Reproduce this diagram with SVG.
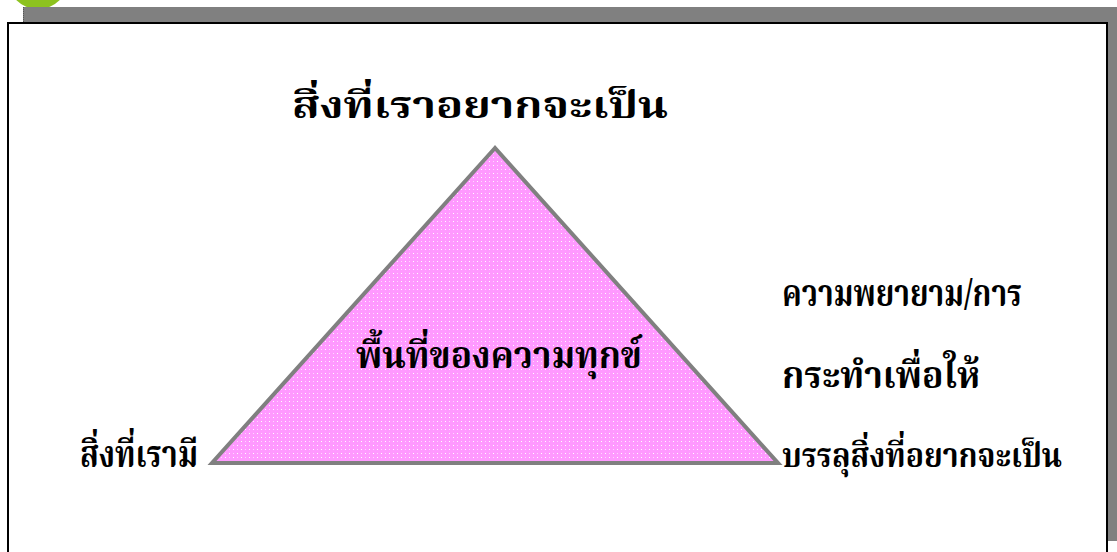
<svg xmlns="http://www.w3.org/2000/svg" width="1117" height="552" viewBox="0 0 1117 552">
<style>
.t{font-family:"Noto Serif Thai","Noto Sans Thai","Loma","Garuda","Liberation Serif",serif;font-weight:bold;font-size:37px;fill:#000}
.s{font-size:34px}
</style>
<defs>
<pattern id="dots" width="8" height="8" patternUnits="userSpaceOnUse">
<rect width="8" height="8" fill="#ff99ff"/>
<rect x="1" y="1" width="1" height="1" fill="#ffffff"/>
<rect x="5" y="5" width="1" height="1" fill="#ffffff"/>
<rect x="1" y="5" width="1" height="1" fill="#ffd6ff"/>
<rect x="5" y="1" width="1" height="1" fill="#ffd6ff"/>
</pattern>
</defs>
<rect width="1117" height="552" fill="#fff"/>
<circle cx="38" cy="-22" r="31" fill="#8dc21f"/>
<rect x="23" y="7" width="1094" height="15" fill="#808080"/>
<rect x="1108" y="7" width="9" height="534" fill="#808080"/>
<line x1="23.5" y1="7" x2="23.5" y2="22" stroke="#555" stroke-dasharray="1,1"/>
<rect x="8" y="23" width="1099" height="540" fill="#fff" stroke="#000" stroke-width="2"/>
<g id="triangle">
<polygon points="495,148 212,463 778,463" fill="url(#dots)" stroke="#808080" stroke-width="4" stroke-linejoin="miter"/>
</g>
<g id="top-label"><text class="t" x="292" y="118" textLength="376" lengthAdjust="spacingAndGlyphs">สิ่งที่เราอยากจะเป็น</text></g>
<g id="center-label"><text class="t" x="356" y="368" textLength="286" lengthAdjust="spacingAndGlyphs">พื้นที่ของความทุกข์</text></g>
<g id="left-label"><text class="t" x="80" y="467" textLength="118" lengthAdjust="spacingAndGlyphs">สิ่งที่เรามี</text></g>
<g id="right-label">
<text class="t" x="782" y="306" textLength="240" lengthAdjust="spacingAndGlyphs">ความพยายาม/การ</text>
<text class="t" x="782" y="388" textLength="198" lengthAdjust="spacingAndGlyphs">กระทำเพื่อให้</text>
<text class="t s" x="782" y="467" textLength="280" lengthAdjust="spacingAndGlyphs">บรรลุสิ่งที่อยากจะเป็น</text>
</g>
<g id="connectors"></g>
</svg>
